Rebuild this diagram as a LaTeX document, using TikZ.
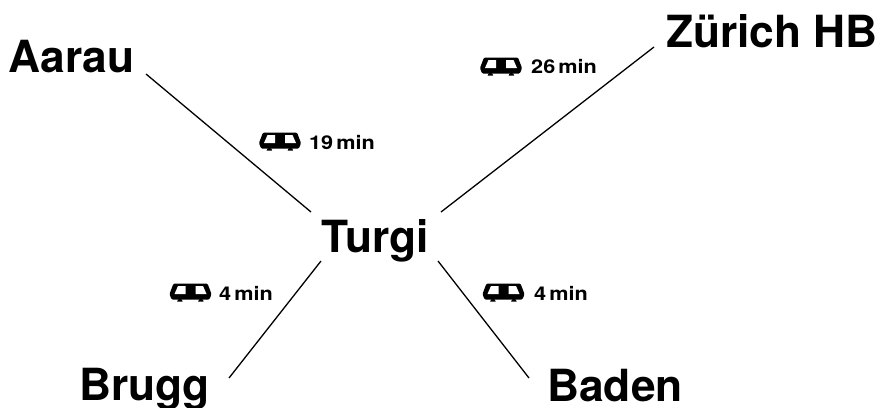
\documentclass[tikz,border=0pt]{standalone}
\usepackage{fontspec}
\setmainfont{TeX Gyre Heros}
\newfontfamily\labelfont[FakeStretch=1.14]{TeX Gyre Heros}
\tikzset{
 city/.style={font=\fontsize{44.3}{46}\selectfont\bfseries, inner sep=0pt, anchor=base},
 conn/.style={draw=black, line width=1.3pt},
 tlabel/.style={font=\labelfont\fontsize{19}{21}\selectfont\bfseries, inner sep=0pt, anchor=base west},
 x=1pt,y=-1pt
}
\newcommand{\train}[2]{%
 \fill[rounded corners=1.2pt] (#1-17,#2-9.5) -- (#1+17,#2-9.5) -- (#1+21,#2+1) -- (#1+19,#2+6.5) -- (#1-19,#2+6.5) -- (#1-21,#2+1) -- cycle;
 \fill[white] (#1-12.5,#2-7) -- (#1-5,#2-7) -- (#1-5,#2+1) -- (#1-16,#2+1) -- cycle;
 \fill[white] (#1+12.5,#2-7) -- (#1+5,#2-7) -- (#1+5,#2+1) -- (#1+16,#2+1) -- cycle;
 \fill (#1-13.3,#2+8.5) arc[start angle=180,end angle=360,radius=2.7] -- cycle;
 \fill (#1+7.7,#2+8.5) arc[start angle=180,end angle=360,radius=2.7] -- cycle;
}
\begin{document}
\begin{tikzpicture}
\useasboundingbox (0,0) rectangle (880,407);
\node[city] (aarau) at (71.5,72) {Aarau};
\node[city] (zurich) at (772,47) {Zürich HB};
\node[city] (turgi) at (375,252) {Turgi};
\node[city] (brugg) at (144.5,400) {Brugg};
\node[city] (baden) at (615,401) {Baden};
\coordinate (a1) at (146,74); \coordinate (a2) at (311,212);
\coordinate (z1) at (654,47); \coordinate (z2) at (441,212);
\coordinate (b1) at (229,378); \coordinate (b2) at (321,261);
\coordinate (d1) at (529,378); \coordinate (d2) at (438,261);
\draw[conn] (a1) -- (a2);
\draw[conn] (z1) -- (z2);
\draw[conn] (b1) -- (b2);
\draw[conn] (d1) -- (d2);
\train{280}{142}
\train{501}{67}
\train{190.5}{293}
\train{503.5}{293}
\node[tlabel] (t1) at (309,149) {19\,min};
\node[tlabel] (t2) at (531,73) {26\,min};
\node[tlabel] (t3) at (219,300) {4\,min};
\node[tlabel] (t4) at (534,300) {4\,min};
\end{tikzpicture}
\end{document}
